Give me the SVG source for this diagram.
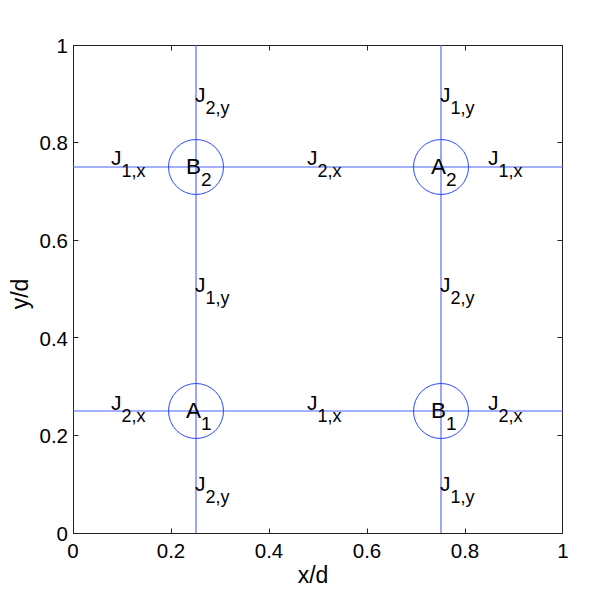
<svg xmlns="http://www.w3.org/2000/svg" width="602" height="593" viewBox="0 0 602 593">
<style>
text{font-family:"Liberation Sans",Arial,sans-serif;fill:#000}
.lab{font-size:21px}
.sub{font-size:18px}
.site-lab{font-size:22.5px}
.ssub{font-size:19px}
.tk{font-size:20.5px}
.ax{font-size:23px}
.grid{stroke:#4a60ff;stroke-width:1.1;fill:none}
.site{stroke:#2848ff;stroke-width:1;fill:none}
.box{stroke:#222;stroke-width:1;fill:none}
</style>
<rect width="602" height="593" fill="#fff"/>
<g id="axes">
<rect class="box" x="73.5" y="45.5" width="489" height="488"/>
<path class="box" d="M171.5 533.5v-5M269.5 533.5v-5M367.5 533.5v-5M465.5 533.5v-5M171.5 45.5v5M269.5 45.5v5M367.5 45.5v5M465.5 45.5v5M73.5 435.5h5M73.5 337.5h5M73.5 240.5h5M73.5 142.5h5M562.5 435.5h-5M562.5 337.5h-5M562.5 240.5h-5M562.5 142.5h-5"/>
<g class="tk" text-anchor="middle">
<text x="73" y="558">0</text>
<text x="171" y="558">0.2</text>
<text x="269" y="558">0.4</text>
<text x="367" y="558">0.6</text>
<text x="465" y="558">0.8</text>
<text x="563" y="558">1</text>
</g>
<g class="tk" text-anchor="end">
<text x="68" y="541">0</text>
<text x="68" y="443">0.2</text>
<text x="68" y="346">0.4</text>
<text x="68" y="248">0.6</text>
<text x="68" y="150">0.8</text>
<text x="68" y="53">1</text>
</g>
<text class="ax" x="313" y="583" text-anchor="middle">x/d</text>
<text class="ax" transform="translate(28 294) rotate(-90)" text-anchor="middle">y/d</text>
</g>
<g id="connectors">
<path class="grid" d="M73 167H563M73 411H563M196 45V533M441 45V533"/>
</g>
<g id="B2"><circle class="site" cx="196" cy="167" r="27.5"/><text class="site-lab" x="186" y="174">B<tspan class="ssub" dy="12">2</tspan></text></g>
<g id="A2"><circle class="site" cx="441" cy="167" r="27.5"/><text class="site-lab" x="431" y="174">A<tspan class="ssub" dy="12">2</tspan></text></g>
<g id="A1"><circle class="site" cx="196" cy="411" r="27.5"/><text class="site-lab" x="186" y="418">A<tspan class="ssub" dy="12">1</tspan></text></g>
<g id="B1"><circle class="site" cx="441" cy="411" r="27.5"/><text class="site-lab" x="431" y="418">B<tspan class="ssub" dy="12">1</tspan></text></g>
<g id="labels" class="lab">
<text x="195" y="102">J<tspan class="sub" dy="12">2,y</tspan></text>
<text x="440" y="102">J<tspan class="sub" dy="12">1,y</tspan></text>
<text x="111" y="165">J<tspan class="sub" dy="12">1,x</tspan></text>
<text x="307" y="165">J<tspan class="sub" dy="12">2,x</tspan></text>
<text x="488" y="165">J<tspan class="sub" dy="12">1,x</tspan></text>
<text x="195" y="292">J<tspan class="sub" dy="12">1,y</tspan></text>
<text x="440" y="292">J<tspan class="sub" dy="12">2,y</tspan></text>
<text x="111" y="410">J<tspan class="sub" dy="12">2,x</tspan></text>
<text x="307" y="410">J<tspan class="sub" dy="12">1,x</tspan></text>
<text x="488" y="410">J<tspan class="sub" dy="12">2,x</tspan></text>
<text x="195" y="491">J<tspan class="sub" dy="12">2,y</tspan></text>
<text x="440" y="491">J<tspan class="sub" dy="12">1,y</tspan></text>
</g>
</svg>
